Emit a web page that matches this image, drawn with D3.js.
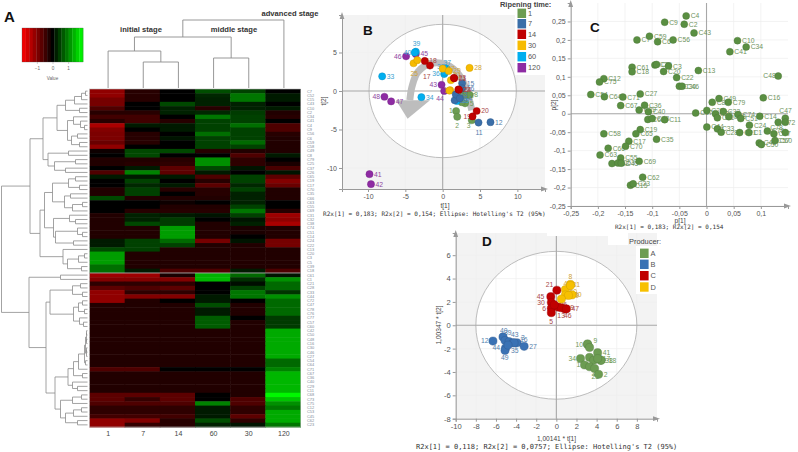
<!DOCTYPE html>
<html>
<head>
<meta charset="utf-8">
<script src="https://cdn.jsdelivr.net/npm/d3@7"></script>
<style>
    html, body { margin: 0; padding: 0; background: #fff; }
    svg { display: block; font-family: "Liberation Sans", sans-serif; }
    .mono { font-family: "DejaVu Sans Mono", monospace; fill: #333; }
    .letter { font-weight: bold; fill: #111; }
    .stage { font-weight: bold; fill: #333; font-size: 7.6px; text-anchor: middle; }
    .axis path, .axis line { stroke: #999; }
</style>
</head>
<body>
<svg id="chart" width="798" height="452"></svg>
<script>
// Heatmap columns (ripening days), in the order of the picture
const heatColumns = ["1", "7", "14", "60", "30", "120"];

// One row per compound, same order as heatColumns
const heatValues = [
    [-1.1, -0.3, 0, 0.6, 0.5, 0],
    [-1.1, -0.3, 0, 0.3, 0.9, 0.2],
    [-0.9, -0.3, 0, 0.25, 0.9, 0.2],
    [-0.9, 0, 0.55, 0.25, 0.25, 0],
    [-0.6, 0, 0.25, -0.3, 0.25, 0.2],
    [-0.3, -0.3, 0.25, 0.3, 0.45, -0.25],
    [-0.5, -0.5, 0, 0.9, 0.5, -0.3],
    [-0.3, -0.5, -0.3, 0.5, 0.5, 0],
    [-1.3, 0.2, 0.2, 0.5, 0.85, -0.6],
    [-1.0, 0, 0.2, 0.5, 0.5, -0.6],
    [-0.95, -0.3, 0, 0.85, 0.5, -0.3],
    [-0.95, -0.3, 0.15, 0.5, 0.5, -0.25],
    [-0.8, -0.3, 0, 0.5, 0.8, -0.25],
    [-1.1, 0, 0, 0.5, 0.5, -0.25],
    [-0.1, 0.55, 0.55, -0.3, -0.25, -0.25],
    [0, 0.55, 0, 0, -0.6, 0.2],
    [-0.25, -0.25, -0.3, 1.1, -0.35, 0],
    [-0.25, -0.3, -0.35, 1.1, -0.35, -0.2],
    [0, 0.2, -0.7, 0.55, 0.15, -0.55],
    [-0.6, 1.0, -0.7, 0.2, 0, 0.15],
    [0.2, 0.2, 0.2, -0.6, 0.5, -0.7],
    [0, 0.5, 0, -0.3, 0.5, -1.0],
    [0, 0.3, 0.2, -0.7, 0.3, -0.8],
    [-0.25, 0.5, -0.3, -0.3, 0.5, -0.25],
    [-0.25, 0.5, 0, -0.3, 0.25, -0.25],
    [0.55, -0.25, -0.25, -0.25, 0.25, -0.25],
    [0, 0, -0.1, 0, 0.25, 0],
    [0, 0, -0.25, -0.25, 0.5, 0],
    [0, -0.3, -0.3, -0.3, 0.9, -0.3],
    [-0.25, 0.25, 0.2, 0.15, 0.5, -1.2],
    [-0.25, 0.25, 0.45, 0, 0.15, -1.1],
    [-0.25, 0.55, 0.45, -0.25, 0.25, -1.3],
    [-0.25, -0.25, 1.2, -0.25, -0.2, -0.25],
    [-0.25, -0.25, 1.2, -0.25, -0.2, -0.25],
    [-0.25, -0.25, 1.2, -0.25, 0, -0.25],
    [0.2, 0.5, 0.8, -0.9, 0.15, -0.9],
    [0.2, 0.5, 0.5, -0.25, -0.25, -0.9],
    [0.55, 0.5, -0.25, -0.25, -0.25, -0.25],
    [1.2, -0.25, -0.25, -0.25, -0.25, -0.25],
    [1.2, -0.25, -0.25, -0.25, -0.25, -0.25],
    [1.2, -0.25, -0.25, -0.25, -0.25, -0.25],
    [0.85, -0.25, -0.25, -0.25, -0.25, -0.25],
    [0.85, 0.2, -0.6, -0.6, 0.2, -0.6],
    [-1.2, -1.2, -0.2, 1.35, 0.8, 0.15],
    [-1.0, -1.0, -1.0, 1.4, 0.35, 1.1],
    [-0.35, -0.35, -0.35, 0, 0.1, 0.8],
    [-0.7, -0.6, -0.7, 0, 0.5, 0.8],
    [-1.1, -0.35, -0.35, 0, 0.9, 0.4],
    [-1.1, -1.0, -1.0, 0.2, 0.9, 1.1],
    [-1.1, -0.25, 0, 0.2, 0, 0.8],
    [-0.25, -0.25, -0.25, 0.6, -0.25, 0.8],
    [-0.25, -0.25, -0.25, 0.2, -0.25, 0.8],
    [-0.25, -0.25, -0.25, 0.2, -0.25, 0.8],
    [-0.25, -0.25, -0.25, 0.7, 0, 0.45],
    [-0.25, -0.25, -0.25, 0.7, -0.25, 0.45],
    [-0.25, -0.25, -0.25, 0.7, -0.25, 0.45],
    [-0.25, -0.25, -0.25, -0.25, -0.25, 1.3],
    [-0.25, -0.25, -0.25, -0.25, -0.25, 1.3],
    [-0.25, -0.25, -0.25, -0.25, -0.25, 1.3],
    [-0.25, -0.25, -0.25, -0.25, -0.25, 1.3],
    [-0.25, -0.25, -0.25, -0.25, -0.25, 1.3],
    [-0.25, -0.25, -0.25, -0.25, -0.25, 1.3],
    [-0.25, -0.25, -0.25, -0.25, -0.25, 1.3],
    [-0.25, -0.25, -0.25, -0.25, -0.25, 0.8],
    [-0.25, -0.25, -0.25, -0.25, -0.25, 0.8],
    [-0.6, -0.6, 0, 0, 0, 1.0],
    [-0.25, -0.25, -0.25, -0.25, -0.25, 1.4],
    [-0.25, -0.25, -0.25, -0.25, -0.25, 1.4],
    [-0.25, -0.25, -0.25, -0.25, -0.25, 1.4],
    [-0.25, -0.25, -0.25, -0.25, -0.25, 1.4],
    [-0.25, -0.25, -0.25, -0.25, -0.25, 1.4],
    [-0.7, -0.7, -0.7, 0, -0.25, 1.9],
    [-0.7, -0.4, -0.7, 0, -0.6, 1.5],
    [-0.6, -0.6, -0.6, 1.0, -0.6, 1.1],
    [-0.35, -0.35, -0.35, 0.2, -0.35, 0.9],
    [-0.35, -0.35, -0.35, 0.2, -0.35, 1.3],
    [-0.5, -0.5, -0.5, 0.2, -0.7, 1.3],
    [-1.1, -1.0, -0.3, 0.6, -0.35, 1.3],
    [-1.1, -0.4, -0.3, 0.25, 0.15, 0.9]
];

// Compound names next to the heatmap, too small to read exactly
const heatRowNames = ["C7", "C52", "C15", "C43", "C10", "C2", "C34", "C41", "C4", "C9", "C56", "C6", "C59", "C58",
    "C49", "C8", "C79", "C25", "C37", "C26", "C65", "C19", "C17", "C70", "C35", "C66", "C63", "C55", "C69", "C31",
    "C32", "C38", "C74", "C51", "C14", "C24", "C22", "C13", "C20", "C3", "C5", "C39", "C18", "C61", "C1", "C21",
    "C28", "C33", "C44", "C72", "C47", "C78", "C76", "C77", "C57", "C60", "C42", "C50", "C48", "C16", "C30", "C46",
    "C27", "C54", "C64", "C71", "C67", "C36", "C40", "C29", "C11", "C68", "C73", "C75", "C12", "C53", "C45", "C62", "C23"];

const heatTicks = [-1, 0, 1];

// Cluster trees: [merge height, left, right], numbers are leaf indexes
const colTree = [68, [51, [37, 0, [26, 1, 2]], [30, 3, 4]], 5];
const rowTree = [86,
    [57.5,
        [44.5,
            [30.5,
                [22, [13, [6, [2, 0, 1], 2], 3], [8, 4, 5]],
                [20, [14, 6, [7, 7, [3, 8, 9]]], [16, [10, 10, 11], [8, 12, 13]]]],
            [39.5, [19, 14, 15], [33, [12, 16, 17], [22, 18, 19]]]],
        [47.5,
            [43,
                [35, [19, [12, 20, 21], [8, 22, 23]], [23, [17, 24, 25], [15, [5, 26, 27], 28]]],
                [34, [18, 29, [12, 30, 31]], [32, [10, 32, [5, 33, 34]], [14, 35, 36]]]],
            [24.5, 37, [20, [9, [3, 38, 39], 40], [6, 41, 42]]]]],
    [58.5,
        [27, 43, 44],
        [41.5,
            [37.5,
                [15, [7, 45, 46], [5, 47, 48]],
                [14, [9, [5, 49, 50], [3, 51, 52]], [8, 53, [4, 54, 55]]]],
            [32.5,
                [19.5,
                    [14, [9, [3, [2, [1, [1, 56, 57], [1, 58, 59]], [1, [1, 60, 61], 62]], [2, 63, 64]], 65],
                        [5, 66, 67]],
                    [15, 68, [10, 69, 70]]],
                [27,
                    [15, [6, 71, 72], 73],
                    [22, [14, [6, 74, 75], 76], [10, 77, 78]]]]]]];

// Panel B, scores by ripening time: [label, t1, t2]
const ripeningTimes = ["1", "7", "14", "30", "60", "120"];
const scoresDay1 = [["1", 1.8, -2.6], ["2", 1.95, -3.35], ["3", 3.9, -3.8], ["4", 2.75, -0.5], ["5", 3, -1.6], ["6", 2.55, -1.45], ["7", 3.2, -0.55], ["8", 3.6, -0.5]];
const scoresDay7 = [["9", 1.9, -0.75], ["10", 1.6, -1.2], ["11", 4.8, -4.1], ["12", 6.4, -4.05], ["13", 1.75, -0.45], ["14", 2.3, -0.95], ["15", 2.6, 1.0], ["16", 2.6, 0.35]];
const scoresDay14 = [["17", -1.7, 3.3], ["18", -2.4, 3.9], ["19", 4, -3.3], ["20", 4.55, -2.6], ["21", 1.55, 1.65], ["22", 2.1, 0.2], ["23", 1.5, 1.7], ["24", 2.2, 0.15]];
const scoresDay30 = [["25", -3.9, 3.6], ["26", -3.4, 4.0], ["27", 0, 2.9], ["28", 3.6, 3.0], ["29", 0.8, 2.6], ["30", 1, 0.1], ["31", 1.1, 1.4], ["32", 0.9, 0.05]];
const scoresDay60 = [["33", -8.1, 1.9], ["34", -2.85, -0.8], ["35", 1.9, -1.3], ["36", 0.2, 2.2], ["37", 0.5, 2.9], ["38", 0.3, 2.4], ["39", -3.6, 5.1], ["40", -3.75, 5.0]];
const scoresDay120 = [["41", -9.8, -10.8], ["42", -9.6, -12.1], ["43", -0.15, 0.8], ["44", 0.2, 0], ["45", -3.6, 4.8], ["46", -4.9, 4.5], ["47", -6.9, -1.35], ["48", -7.8, -0.75]];

// Grey arrow over panel B, in t1/t2 units
const arrowArc = [[3.9, -2.5], [3.2, 0.1], [2.2, 2.1], [0.5, 3.4], [-1.5, 3.6], [-3.3, 2.5], [-4.1, 0.6], [-4.4, -1.2]];
const arrowHead = [[-6.25, -1.2], [-4.7, -3.6], [-1.7, -1.2]];

// Panel C, loadings: [label, p1, p2]
const loadings = [
    ["C4", -0.0375, 0.265], ["C9", -0.077, 0.248], ["C2", -0.041, 0.2425], ["C43", -0.023, 0.219], ["C59", -0.105, 0.21],
    ["C7", -0.128, 0.2], ["C6", -0.09, 0.195], ["C56", -0.0615, 0.2], ["C10", 0.057, 0.198], ["C34", 0.073, 0.181],
    ["C41", 0.043, 0.168], ["C61", -0.137, 0.126], ["C18", -0.137, 0.1135], ["C39", -0.095, 0.132], ["C5", -0.092, 0.1335],
    ["C3", -0.07, 0.129], ["C20", -0.079, 0.1145], ["C13", -0.015, 0.117], ["C22", -0.055, 0.098], ["C12", -0.189, 0.095],
    ["C75", -0.197, 0.086], ["C48", 0.132, 0.102], ["C30", -0.05, 0.0745], ["C46", -0.045, 0.0745], ["C27", -0.122, 0.0535],
    ["C54", -0.213, 0.052], ["C64", -0.188, 0.046], ["C71", -0.154, 0.045], ["C16", 0.1045, 0.043], ["C67", -0.158, 0.022],
    ["C36", -0.114, 0.023], ["C40", -0.107, 0.0055], ["C29", -0.124, 0.01], ["C49", 0.023, 0.041], ["C8", 0.0105, 0.031],
    ["C79", 0.04, 0.031], ["C25", 0.0006, 0.009], ["C37", -0.02, 0.002], ["C26", 0.0165, 0], ["C31", 0.02, -0.011],
    ["C32", 0.031, 0.006], ["C38", 0.041, -0.008], ["C74", 0.058, -0.002], ["C51", 0.063, -0.013], ["C14", 0.098, -0.007],
    ["C72", 0.132, -0.023], ["C47", 0.145, -0.012], ["C78", 0.145, -0.023], ["C24", 0.079, -0.031], ["C76", 0.112, -0.047],
    ["C77", 0.124, -0.0545], ["C57", 0.145, -0.051], ["C44", 0.0006, -0.036], ["C33", 0.02, -0.041], ["C28", 0.027, -0.05],
    ["C21", 0.061, -0.051], ["C1", 0.078, -0.051], ["C42", 0.097, -0.079], ["C50", 0.101, -0.0835], ["C60", 0.126, -0.0725],
    ["C11", -0.077, -0.016], ["C68", -0.108, -0.0155], ["C73", -0.1, -0.013], ["C19", -0.122, -0.043], ["C65", -0.13, -0.0545],
    ["C58", -0.189, -0.0545], ["C17", -0.143, -0.0745], ["C70", -0.149, -0.088], ["C35", -0.092, -0.069], ["C66", -0.181, -0.0935],
    ["C63", -0.196, -0.112], ["C55", -0.158, -0.12], ["C69", -0.124, -0.129], ["C52", -0.174, -0.135], ["C53", -0.163, -0.1335],
    ["C45", -0.157, -0.134], ["C62", -0.1175, -0.172], ["C15", -0.14, -0.1935], ["C23", -0.135, -0.19]
];

// Panel D, scores by producer: [label, t1, t2]
const producers = ["A", "B", "C", "D"];
const producerA = [["10", 3.1, -1.65], ["9", 3.1, -1.6], ["7", 3.3, -1.9], ["41", 4.1, -2.35], ["34", 2.4, -2.85], ["1", 2.8, -3.4],
    ["18", 4.4, -3.0], ["38", 4.45, -3.0], ["14", 3.3, -2.75], ["22", 3.7, -3.0], ["17", 4.1, -2.85], ["33", 3.3, -3.55], ["25", 3.8, -3.7], ["2", 4.2, -4.2]];
const producerB = [["12", -6.3, -1.35], ["40", -5.3, -1.0], ["39", -5.1, -1.3], ["43", -4.7, -1.4], ["3", -4.3, -1.5], ["16", -3.9, -1.5],
    ["27", -3.2, -1.8], ["44", -5.05, -1.95], ["35", -4.2, -1.5], ["49", -5.1, -2.15], ["4", -4.8, -1.7]];
const producerC = [["21", 0.05, 3.0], ["45", -0.55, 2.45], ["30", -0.5, 1.95], ["6", -0.5, 1.45], ["5", -0.5, 1.08], ["13", 0.2, 1.55],
    ["46", 0.85, 1.4], ["19", 0.5, 1.5], ["47", 1.0, 1.4], ["26", -0.2, 1.75]];
const producerD = [["48", 0.9, 3.05], ["8", 1.4, 3.5], ["31", 1.4, 3.4], ["23", 0.9, 2.6], ["20", 1.55, 2.6], ["29", 1.2, 2.55], ["50", 0.5, 2.25]];

const svg = d3.select("#chart");

// ---------- Panel A ----------
const heatX = d3.scaleBand().domain(heatColumns).range([89.5, 300.5]);
const heatY = d3.scaleBand().domain(d3.range(heatValues.length)).range([89, 427]);
const heatColor = d3.scaleLinear().domain([-1.95, 0, 1.95]).range(["#ff0000", "#000000", "#00ff00"]);

const heat = svg.append("g");
heatValues.forEach((row, r) => {
    heat.selectAll(null)
        .data(row)
        .join("rect")
        .attr("x", (d, i) => heatX(heatColumns[i]))
        .attr("y", heatY(r))
        .attr("width", heatX.bandwidth() + 0.5)
        .attr("height", heatY.bandwidth() + 0.5)
        .attr("fill", d => heatColor(d));
});

// light gap between the two big clusters
svg.append("line")
    .attr("x1", 89.5).attr("x2", 300.5)
    .attr("y1", heatY(43)).attr("y2", heatY(43))
    .attr("stroke", "#aaa").attr("stroke-width", 0.9);
svg.append("rect")
    .attr("x", 89.5).attr("y", 89).attr("width", 211).attr("height", 338)
    .attr("fill", "none").attr("stroke", "#bbb").attr("stroke-width", 0.6);

svg.append("g").selectAll("text")
    .data(heatRowNames)
    .join("text")
    .attr("x", 307)
    .attr("y", (d, i) => heatY(i) + heatY.bandwidth() / 2 + 1.4)
    .attr("font-size", 3.9)
    .attr("fill", "#7a8794")
    .text(d => d);

svg.append("g").selectAll("text")
    .data(heatColumns)
    .join("text")
    .attr("x", d => heatX(d) + heatX.bandwidth() / 2 + 1)
    .attr("y", 436)
    .attr("text-anchor", "middle")
    .attr("font-size", 7)
    .attr("fill", "#444")
    .text(d => d);

// Walks a cluster tree and draws its elbows, gives back the position of the node
function drawTree(node, leafPos, heightPos, path, horizontal) {
    if (typeof node === "number") return { pos: leafPos(node), h: 0 };
    const a = drawTree(node[1], leafPos, heightPos, path, horizontal);
    const b = drawTree(node[2], leafPos, heightPos, path, horizontal);
    const h = heightPos(node[0]);
    const pt = horizontal ? (p, v) => [v, p] : (p, v) => [p, v];
    path.moveTo(...pt(a.pos, heightPos(a.h)));
    path.lineTo(...pt(a.pos, h));
    path.lineTo(...pt(b.pos, h));
    path.lineTo(...pt(b.pos, heightPos(b.h)));
    return { pos: (a.pos + b.pos) / 2, h: node[0] };
}

const colPath = d3.path();
drawTree(colTree,
    i => heatX(heatColumns[i]) + heatX.bandwidth() / 2 + 1,
    d3.scaleLinear().domain([0, 68]).range([88, 20]),
    colPath, false);
svg.append("path").attr("d", colPath.toString())
    .attr("fill", "none").attr("stroke", "#8c8c8c").attr("stroke-width", 0.9);

const rowPath = d3.path();
drawTree(rowTree,
    i => heatY(i) + heatY.bandwidth() / 2,
    d3.scaleLinear().domain([0, 86]).range([87.5, 1.5]),
    rowPath, true);
svg.append("path").attr("d", rowPath.toString())
    .attr("fill", "none").attr("stroke", "#8c8c8c").attr("stroke-width", 0.8);

svg.append("text").attr("class", "stage").attr("x", 141).attr("y", 32).text("initial stage");
svg.append("text").attr("class", "stage").attr("x", 234).attr("y", 32).text("middle stage");
svg.append("text").attr("class", "stage").attr("x", 290).attr("y", 16).text("advanced stage");
svg.append("text").attr("class", "letter").attr("x", 4).attr("y", 22).attr("font-size", 15).text("A");

// colour key
const keyX = d3.scaleLinear().domain([-1.95, 1.95]).range([22, 83]);
const keySteps = d3.range(-1.95, 1.95, 3.9 / 17);
svg.append("g").selectAll("rect")
    .data(keySteps)
    .join("rect")
    .attr("x", d => keyX(d))
    .attr("y", 28)
    .attr("width", keyX(3.9 / 17) - keyX(0) + 0.3)
    .attr("height", 34)
    .attr("fill", d => heatColor(d + 3.9 / 34));
svg.append("rect").attr("x", 22).attr("y", 28).attr("width", 61).attr("height", 34)
    .attr("fill", "none").attr("stroke", "#555").attr("stroke-width", 0.3);
const keyAxis = svg.append("g")
    .attr("transform", "translate(0,62)")
    .call(d3.axisBottom(keyX).tickValues(heatTicks).tickSize(2).tickPadding(3).tickFormat(d => d === -1 ? "\u22121" : d));
keyAxis.select(".domain").remove();
keyAxis.selectAll("line").attr("stroke", "#888").attr("stroke-width", 0.4);
keyAxis.selectAll("text").attr("font-size", 4.6).attr("fill", "#666").attr("font-family", "Liberation Sans");
svg.append("text").attr("x", 52.5).attr("y", 80).attr("text-anchor", "middle")
    .attr("font-size", 4.6).attr("fill", "#666").text("Value");

// ---------- Panels B, C, D ----------
const commaTick = d => String(d).replace(".", ",");

function drawPanel(cfg) {
    const x = d3.scaleLinear().domain(cfg.xDomain).range(cfg.xRange);
    const y = d3.scaleLinear().domain(cfg.yDomain).range(cfg.yRange);
    const [x0, x1] = cfg.xRange;
    const [y0, y1] = cfg.yRange;
    const g = svg.append("g");

    g.append("rect").attr("x", x0).attr("y", y1).attr("width", x1 - x0).attr("height", y0 - y1).attr("fill", cfg.background);
    if (cfg.ellipse) {
        g.append("ellipse")
            .attr("cx", x(0)).attr("cy", y(0))
            .attr("rx", x(cfg.ellipse[0]) - x(0)).attr("ry", y(0) - y(cfg.ellipse[1]))
            .attr("fill", "#fff");
    }

    g.append("g").selectAll("line").data(cfg.xTicks).join("line")
        .attr("x1", d => x(d)).attr("x2", d => x(d)).attr("y1", y0).attr("y2", y1)
        .attr("stroke", cfg.grid).attr("stroke-width", 0.7);
    g.append("g").selectAll("line").data(cfg.yTicks).join("line")
        .attr("y1", d => y(d)).attr("y2", d => y(d)).attr("x1", x0).attr("x2", x1)
        .attr("stroke", cfg.grid).attr("stroke-width", 0.7);

    if (cfg.ellipse) {
        g.append("ellipse")
            .attr("cx", x(0)).attr("cy", y(0))
            .attr("rx", x(cfg.ellipse[0]) - x(0)).attr("ry", y(0) - y(cfg.ellipse[1]))
            .attr("fill", "none").attr("stroke", "#b5b5b5").attr("stroke-width", 0.9);
    }

    g.append("line").attr("x1", x(0)).attr("x2", x(0)).attr("y1", y0).attr("y2", y1)
        .attr("stroke", "#a8a8a8").attr("stroke-width", 1.1);
    g.append("line").attr("y1", y(0)).attr("y2", y(0)).attr("x1", x0).attr("x2", x1)
        .attr("stroke", "#a8a8a8").attr("stroke-width", 1.1);

    const ax = g.append("g").attr("class", "axis")
        .attr("transform", `translate(0,${y0})`)
        .call(d3.axisBottom(x).tickValues(cfg.xTicks).tickSize(3).tickPadding(2).tickFormat(commaTick));
    const ay = g.append("g").attr("class", "axis")
        .attr("transform", `translate(${x0},0)`)
        .call(d3.axisLeft(y).tickValues(cfg.yTicks).tickSize(3).tickPadding(2).tickFormat(commaTick));
    [ax, ay].forEach(a => a.selectAll("text")
        .attr("font-family", "Liberation Sans")
        .attr("font-size", cfg.tickFont)
        .attr("fill", "#555"));

    // arrow heads on the axis ends
    g.append("path").attr("fill", "#999")
        .attr("d", `M${x1 + 3},${y0}l-7,-2.4v4.8z`);
    g.append("path").attr("fill", "#999")
        .attr("d", `M${x0},${y1 - 3}l-2.4,7h4.8z`);

    return { g, x, y };
}

function drawPoints(panel, rows, color, labelColor, offsets, radius) {
    const { g, x, y } = panel;
    const group = g.append("g");
    group.selectAll("text")
        .data(rows)
        .join("text")
        .attr("x", d => x(d[1]) + (offsets[d[0]] ? offsets[d[0]][0] : radius + 1))
        .attr("y", d => y(d[2]) + (offsets[d[0]] ? offsets[d[0]][1] : 2.4))
        .attr("font-size", 6.8)
        .attr("fill", labelColor)
        .text(d => d[0]);
    group.selectAll("circle")
        .data(rows)
        .join("circle")
        .attr("cx", d => x(d[1]))
        .attr("cy", d => y(d[2]))
        .attr("r", radius)
        .attr("fill", color)
        .attr("stroke", d3.color(color).darker(0.6))
        .attr("stroke-width", 0.4);
}

function drawLegend(title, weight, titleX, titleY, names, colors, boxX, ys, bg) {
    svg.append("rect").attr("x", bg[0]).attr("y", bg[1]).attr("width", bg[2]).attr("height", bg[3]).attr("fill", "#fff");
    svg.append("text").attr("x", titleX).attr("y", titleY)
        .attr("font-size", 7.4).attr("font-weight", weight).attr("fill", "#444").text(title);
    svg.append("g").selectAll("rect").data(names).join("rect")
        .attr("x", boxX).attr("y", (d, i) => ys[i] - 4.7)
        .attr("width", 8.6).attr("height", 9.4)
        .attr("fill", (d, i) => colors[i]);
    svg.append("g").selectAll("text").data(names).join("text")
        .attr("x", boxX + 10.5).attr("y", (d, i) => ys[i] + 2.6)
        .attr("font-size", 7.4).attr("fill", "#555")
        .text(d => d);
}

function footer(text, x, y, size) {
    svg.append("text").attr("class", "mono").attr("x", x).attr("y", y).attr("font-size", size).text(text);
}

function axisTitle(text, x, y, rotate) {
    svg.append("text")
        .attr("transform", `translate(${x},${y})${rotate ? " rotate(-90)" : ""}`)
        .attr("text-anchor", "middle").attr("font-size", 6.6).attr("fill", "#444").text(text);
}

const ripeColors = ["#6c9c52", "#3a6ea8", "#c00000", "#f7bb00", "#00aeef", "#8e2ba3"];
const ripeLabelColors = ["#6f9a58", "#5580ac", "#a84848", "#cfa233", "#3b9fd0", "#8f45a0"];

// Panel B
const panelB = drawPanel({
    xDomain: [-13.48, 13.7], xRange: [342, 545],
    yDomain: [-12.73, 9.87], yRange: [189, 15],
    xTicks: [-10, -5, 0, 5, 10], yTicks: [-10, -5, 0, 5],
    background: "#f3f3f3", grid: "#efefef", ellipse: [9.86, 8.66], tickFont: 7
});

const arcLine = d3.line().curve(d3.curveCatmullRom).x(d => panelB.x(d[0])).y(d => panelB.y(d[1]));
panelB.g.append("path").attr("d", arcLine(arrowArc))
    .attr("fill", "none").attr("stroke", "#bdbdbd").attr("stroke-width", 7);
panelB.g.append("path")
    .attr("d", d3.line().x(d => panelB.x(d[0])).y(d => panelB.y(d[1]))(arrowHead) + "Z")
    .attr("fill", "#bdbdbd");

const bOffsets = {
    "46": [-12, 2.4], "48": [-12, 2.4], "43": [-12, 2.4], "44": [-8, 10], "40": [-11, 2.4], "39": [-3, -5.5],
    "25": [-3, 13], "17": [-7, 13], "1": [-7, 2], "2": [-2, 11], "3": [-5, 8], "11": [-3, 12],
    "36": [-12, 2.4], "37": [-3, -3.5], "38": [-8, -3.5], "32": [-5, 2.4], "19": [-9, 2.4], "31": [3, -2], "6": [-2, -2.5]
};
const dayRows = [scoresDay1, scoresDay7, scoresDay14, scoresDay30, scoresDay60, scoresDay120];
[5, 0, 4, 3, 1, 2].forEach(i => {
    drawPoints(panelB, dayRows[i], ripeColors[i], ripeLabelColors[i], bOffsets, 3.6);
});

drawLegend("Ripening time:", "bold", 500, 6.5, ripeningTimes, ripeColors, 517.5,
    [13.3, 23.7, 34.3, 45.3, 56.7, 67.7], [515, 8, 36, 67]);
svg.append("text").attr("class", "letter").attr("x", 363).attr("y", 35).attr("font-size", 13.5).text("B");
axisTitle("t[2]", 326, 101, true);
axisTitle("t[1]", 445, 208, false);
footer("R2x[1] = 0,183; R2x[2] = 0,154; Ellipse: Hotelling's T2 (95%)", 323, 216, 6.07);

// Panel C
const panelC = drawPanel({
    xDomain: [-0.25, 0.15], xRange: [570.7, 788],
    yDomain: [-0.25, 0.3], yRange: [206, 3],
    xTicks: [-0.25, -0.2, -0.15, -0.1, -0.05, 0, 0.05, 0.1],
    yTicks: [-0.25, -0.2, -0.15, -0.1, -0.05, 0, 0.05, 0.1, 0.15, 0.2, 0.25],
    background: "#fff", grid: "#eeeeee", ellipse: null, tickFont: 7
});
const cOffsets = { "C48": [-15, 2.4], "C47": [-6, -5], "C78": [-15, 8], "C57": [-8, 10] };
drawPoints(panelC, loadings, "#5a8f42", "#6f9460", cOffsets, 3.5);
svg.append("text").attr("class", "letter").attr("x", 590).attr("y", 32).attr("font-size", 13.5).text("C");
axisTitle("p[2]", 556, 105, true);
axisTitle("p[1]", 680, 223, false);
footer("R2x[1] = 0,183; R2x[2] = 0,154", 615, 229, 6);

// Panel D
const panelD = drawPanel({
    xDomain: [-10, 10], xRange: [455.7, 657],
    yDomain: [-8, 7.9], yRange: [418.7, 233],
    xTicks: [-10, -8, -6, -4, -2, 0, 2, 4, 6, 8], yTicks: [-8, -6, -4, -2, 0, 2, 4, 6],
    background: "#f3f3f3", grid: "#efefef", ellipse: [8, 6.33], tickFont: 7.6
});
const dOffsets = {
    "10": [-12, 2.4], "9": [6, -1], "7": [-1, 2.4], "34": [-12, 2.4], "1": [-8, 2.4], "25": [-3, 11], "33": [2, 9],
    "38": [4, 3], "18": [8, 3], "12": [-12, 2.4], "40": [-3, -3.5], "39": [-1, -5], "43": [2, -5], "3": [8, -2.5], "16": [3, -1],
    "44": [-13, 2.4], "35": [-3, 10], "49": [-4, 10], "21": [-11, -3.5], "45": [-14, 2.4], "30": [-14, 2.4], "6": [-9, 2.4],
    "5": [-2, 11], "13": [-1, 11], "46": [-1, 9], "48": [-2, -3.5], "8": [-2, -5], "31": [2, 1], "20": [2, 2.4], "29": [3, 2.4], "50": [8, -5]
};
const producerRows = [producerA, producerB, producerC, producerD];
const producerColors = ["#6c9c52", "#3a72b4", "#c00000", "#f7c000"];
const producerLabelColors = ["#6f9a58", "#5580ac", "#a84848", "#cfa233"];
producerRows.forEach((rows, i) => {
    drawPoints(panelD, rows, producerColors[i], producerLabelColors[i], dOffsets, 4.1);
});

// white gaps left over the top of the plot
svg.append("rect").attr("x", 547).attr("y", 232).attr("width", 61).attr("height", 4).attr("fill", "#fff");
svg.append("rect").attr("x", 608).attr("y", 232).attr("width", 20).attr("height", 13).attr("fill", "#fff");

drawLegend("Producer:", "normal", 629, 244, producers, producerColors, 640, [253.3, 264.3, 275.7, 287], [636, 246, 24, 48]);
svg.append("text").attr("class", "letter").attr("x", 482).attr("y", 246).attr("font-size", 13.5).text("D");
axisTitle("1,00347 * t[2]", 441, 325, true);
axisTitle("1,00141 * t[1]", 556.5, 441, false);
footer("R2x[1] = 0,118; R2x[2] = 0,0757; Ellipse: Hotelling's T2 (95%)", 416, 449, 7);
</script>
</body>
</html>
